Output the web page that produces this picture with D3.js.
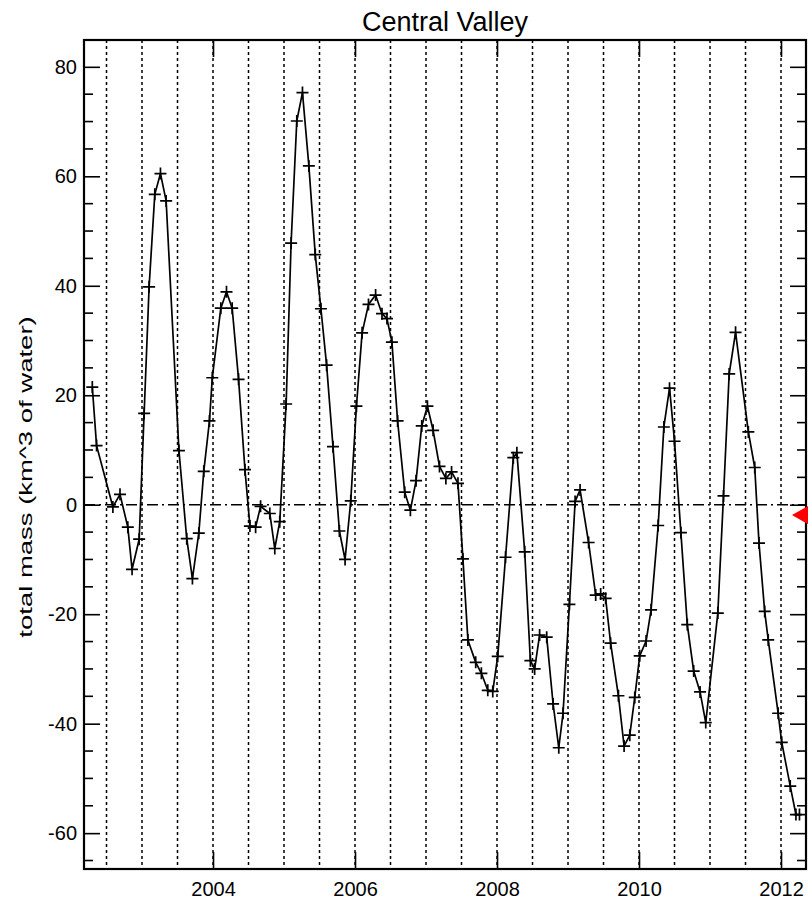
<!DOCTYPE html>
<html>
<head>
<meta charset="utf-8">
<script src="https://cdn.jsdelivr.net/npm/d3@7"></script>
<style>
  html, body { margin: 0; padding: 0; background: #fff; }
  svg { display: block; }
  text { font-family: "Liberation Sans", Arial, Helvetica, sans-serif; fill: #000; }
</style>
</head>
<body>
<svg id="chart" width="808" height="903"></svg>
<script>
// Central Valley total water mass, monthly solutions (decimal year, km^3)
const chartTitle = "Central Valley";
const yAxisLabel = "total mass (km^3 of water)";

const years = [
  2002.30, 2002.36, 2002.59, 2002.69, 2002.80, 2002.86, 2002.96,
  2003.03, 2003.10, 2003.18, 2003.26, 2003.34, 2003.52, 2003.63, 2003.71, 2003.80, 2003.87, 2003.95,
  2003.99, 2004.11, 2004.19, 2004.27, 2004.36, 2004.45, 2004.52, 2004.60, 2004.67, 2004.80, 2004.87, 2004.94,
  2005.03, 2005.10, 2005.18, 2005.26, 2005.35, 2005.44, 2005.52, 2005.60, 2005.69, 2005.78, 2005.86, 2005.94,
  2006.02, 2006.10, 2006.19, 2006.29, 2006.38, 2006.45, 2006.52, 2006.60, 2006.70, 2006.78, 2006.86, 2006.94,
  2007.02, 2007.10, 2007.19, 2007.28, 2007.36, 2007.45, 2007.52, 2007.59, 2007.70, 2007.78, 2007.87, 2007.94,
  2008.01, 2008.12, 2008.23, 2008.28, 2008.39, 2008.47, 2008.53, 2008.60, 2008.70, 2008.79, 2008.87, 2008.93,
  2009.02, 2009.10, 2009.17, 2009.29, 2009.39, 2009.46, 2009.53, 2009.60, 2009.71, 2009.79, 2009.87, 2009.94,
  2010.01, 2010.10, 2010.17, 2010.27, 2010.35, 2010.43, 2010.50, 2010.59, 2010.68, 2010.77, 2010.86, 2010.94,
  2011.11, 2011.19, 2011.27, 2011.36, 2011.54, 2011.63, 2011.69, 2011.77, 2011.82, 2011.96,
  2012.01, 2012.13, 2012.21, 2012.26
];

const totalMass = [
  21.5, 10.8, -0.4, 1.9, -4.1, -11.8, -6.3,
  16.7, 39.8, 56.7, 60.5, 55.5, 9.9, -6.2, -13.5, -5.2, 6.1, 15.3,
  23.2, 35.9, 38.9, 35.9, 22.9, 6.4, -3.9, -4.1, -0.3, -1.6, -8.0, -3.1,
  18.4, 47.8, 70.1, 75.3, 61.9, 45.7, 35.8, 25.5, 10.6, -4.8, -10.0, 0.7,
  18.0, 31.4, 36.6, 38.3, 34.9, 34.0, 29.7, 15.3, 2.3, -1.0, 4.4, 14.4,
  18.0, 13.6, 7.0, 4.8, 6.0, 3.9, -9.9, -24.7, -28.8, -30.8, -33.9, -34.1,
  -27.7, -9.6, 8.6, 9.5, -8.6, -28.5, -30.0, -23.8, -24.2, -36.4, -44.4, -38.1,
  -18.2, 0.6, 2.7, -6.9, -16.5, -16.3, -17.1, -25.3, -34.9, -44.1, -42.1, -35.2,
  -27.6, -24.9, -19.2, -3.8, 14.2, 21.3, 11.6, -5.1, -21.9, -30.4, -34.2, -39.8,
  -19.8, 1.6, 23.9, 31.5, 13.3, 6.8, -7.0, -19.5, -24.7, -38.1,
  -43.4, -51.4, -56.6, -56.6
];

const xMajorTicks = [2004, 2006, 2008, 2010, 2012];
const yMajorTicks = [-60, -40, -20, 0, 20, 40, 60, 80];
const yMinorTicks = [-65, -55, -50, -45, -35, -30, -25, -15, -10, -5, 5, 10, 15, 25, 30, 35, 45, 50, 55, 65, 70, 75];
const halfYearLines = [2002.5, 2003, 2003.5, 2004, 2004.5, 2005, 2005.5, 2006, 2006.5, 2007,
                       2007.5, 2008, 2008.5, 2009, 2009.5, 2010, 2010.5, 2011, 2011.5, 2012];
const referenceLevel = -1.9;   // level flagged by the marker on the right edge

const points = years.map((t, i) => ({ t, v: totalMass[i] }));

const svg = d3.select("#chart");
const W = 808, H = 903;
const plot = { left: 84, right: 806, top: 40, bottom: 869 };

svg.append("rect").attr("width", W).attr("height", H).attr("fill", "#fff");

const x = d3.scaleLinear().domain([2002.183, 2012.352]).range([plot.left, plot.right]);
const y = d3.scaleLinear().domain([-66.55, 84.9]).range([plot.bottom, plot.top]);

// half-year dotted guides
svg.append("g").selectAll("line").data(halfYearLines).join("line")
  .attr("x1", d => x(d)).attr("x2", d => x(d))
  .attr("y1", plot.top).attr("y2", plot.bottom)
  .attr("stroke", "#000").attr("stroke-width", 1.5)
  .attr("stroke-dasharray", "3,3");

// zero reference, dash-dot
svg.append("line")
  .attr("x1", plot.left).attr("x2", plot.right)
  .attr("y1", y(0)).attr("y2", y(0))
  .attr("stroke", "#000").attr("stroke-width", 1.6)
  .attr("stroke-dasharray", "11,4,2,4");

// axes: ticks point inward on all four sides
const tickLenMajor = 16, tickLenMinor = 9;
const plainNumber = d => String(d);

const leftAxis = d3.axisLeft(y).tickValues(yMajorTicks).tickSizeInner(-tickLenMajor).tickSizeOuter(0).tickPadding(7).tickFormat(plainNumber);
const gL = svg.append("g").attr("transform", `translate(${plot.left},0)`).call(leftAxis);
gL.append("g").selectAll("line").data(yMinorTicks).join("line")
  .attr("x1", 0).attr("x2", tickLenMinor).attr("y1", d => y(d)).attr("y2", d => y(d));

const rightAxis = d3.axisRight(y).tickValues(yMajorTicks).tickSizeInner(-tickLenMajor).tickSizeOuter(0).tickFormat("");
const gR = svg.append("g").attr("transform", `translate(${plot.right},0)`).call(rightAxis);
gR.append("g").selectAll("line").data(yMinorTicks).join("line")
  .attr("x1", 0).attr("x2", -tickLenMinor).attr("y1", d => y(d)).attr("y2", d => y(d));

const bottomAxis = d3.axisBottom(x).tickValues(xMajorTicks).tickSizeInner(-17).tickSizeOuter(0).tickPadding(13).tickFormat(plainNumber);
const gB = svg.append("g").attr("transform", `translate(0,${plot.bottom})`).call(bottomAxis);

const topAxis = d3.axisTop(x).tickValues(xMajorTicks).tickSizeInner(-17).tickSizeOuter(0).tickFormat("");
const gT = svg.append("g").attr("transform", `translate(0,${plot.top})`).call(topAxis);

[gL, gR, gB, gT].forEach(g => {
  g.select(".domain").remove();
  g.selectAll("line").attr("stroke", "#000").attr("stroke-width", 1.6);
  g.selectAll("text").attr("font-size", 20).attr("font-family", "Liberation Sans, Arial, sans-serif").attr("fill", "#000");
});

// frame
svg.append("rect")
  .attr("x", plot.left).attr("y", plot.top)
  .attr("width", plot.right - plot.left).attr("height", plot.bottom - plot.top)
  .attr("fill", "none").attr("stroke", "#000").attr("stroke-width", 2.2);

// series line
const line = d3.line().x(d => x(d.t)).y(d => y(d.v));
svg.append("path").datum(points)
  .attr("d", line).attr("fill", "none")
  .attr("stroke", "#000").attr("stroke-width", 1.7).attr("stroke-linejoin", "round");

// plus markers
const arm = 6;
svg.append("g").selectAll("path").data(points).join("path")
  .attr("d", d => `M${x(d.t) - arm},${y(d.v)}H${x(d.t) + arm}M${x(d.t)},${y(d.v) - arm}V${y(d.v) + arm}`)
  .attr("stroke", "#000").attr("stroke-width", 1.7).attr("fill", "none");

// red marker at the right edge
const ry = y(referenceLevel), tipX = plot.right - 14;
svg.append("path")
  .attr("d", `M${tipX},${ry}L${tipX + 28},${ry - 16}L${tipX + 28},${ry + 16}Z`)
  .attr("fill", "#ff0000");

// title
svg.append("text")
  .attr("x", (plot.left + plot.right) / 2).attr("y", 31)
  .attr("text-anchor", "middle").attr("font-size", 27)
  .text(chartTitle);

// y-axis label, stretched along its length
svg.append("text")
  .attr("transform", `translate(32,477) rotate(-90) scale(1.25,0.85)`)
  .attr("text-anchor", "middle").attr("font-size", 22)
  .text(yAxisLabel);
</script>
</body>
</html>
